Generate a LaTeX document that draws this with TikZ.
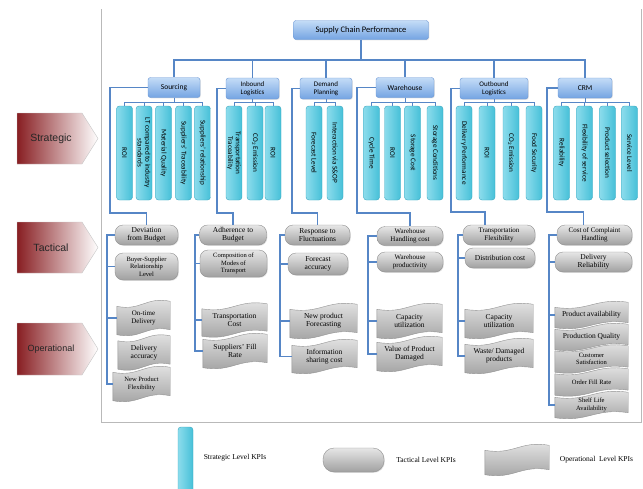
\documentclass[tikz,border=0pt]{standalone}
\usepackage{fontspec}
\setmainfont{Liberation Serif}
\newfontfamily\calfont{Carlito}
\newfontfamily\arialfont{Liberation Sans}
\usetikzlibrary{calc,backgrounds,shadows}
\definecolor{lineblue}{RGB}{86,134,198}
\definecolor{catborder}{RGB}{106,150,212}
\definecolor{cattop}{RGB}{196,220,247}
\definecolor{catbot}{RGB}{116,164,226}
\definecolor{barmain}{RGB}{70,192,216}
\definecolor{barlight}{RGB}{140,220,236}
\definecolor{barborder}{RGB}{58,166,190}
\definecolor{ttop}{RGB}{230,230,230}
\definecolor{tbot}{RGB}{160,160,160}
\definecolor{tborder}{RGB}{145,145,145}
\definecolor{framegray}{RGB}{185,185,185}
\definecolor{lvred}{RGB}{136,30,34}
\newcommand\opwave[1]{%
  \path[opshape] let \p1=(#1.north west), \p2=(#1.south east) in
  (\x1,{\y1-2.5pt}) .. controls ({0.55*\x1+0.45*\x2},{\y1-7.5pt}) and ({0.45*\x1+0.55*\x2},{\y1+7.5pt}) .. (\x2,{\y1+2.5pt})
  -- (\x2,{\y2+2.5pt}) .. controls ({0.45*\x1+0.55*\x2},{\y2+7.5pt}) and ({0.55*\x1+0.45*\x2},{\y2-7.5pt}) .. (\x1,{\y2-2.5pt}) -- cycle;}
\newcommand\kpispine[3]{\draw[conn] (#2.west) -- (#2.west -| #1,0) -- (#3.west -| #1,0) -- (#3.west);}
\newcommand\kpistub[2]{\draw[conn] (#2.west) -- (#2.west -| #1,0);}
\begin{document}
\begin{tikzpicture}[x=1pt,y=-1pt,
  conn/.style={draw=lineblue, line width=1.2pt},
  thin conn/.style={draw=lineblue, line width=1pt},
  catbox/.style={draw=catborder, rounded corners=2.5pt, top color=cattop, bottom color=catbot,
    font=\calfont\fontsize{7.5}{8.5}\selectfont, align=center, inner sep=1pt, minimum height=20pt,
    drop shadow={opacity=0.2, shadow xshift=0.8pt, shadow yshift=-0.8pt}},
  sbar/.style={draw=barborder, rounded corners=3pt, left color=barlight, right color=barmain,
    minimum width=16pt, minimum height=94pt, inner sep=0pt},
  stext/.style={rotate=-90, font=\calfont\fontsize{7.2}{7.8}\selectfont, align=center, inner sep=0pt},
  tkpi/.style={draw=tborder, rounded corners=8pt, top color=ttop, bottom color=tbot,
    font=\fontsize{7.5}{8.2}\selectfont, align=center, inner sep=1pt, minimum height=20pt,
    drop shadow={opacity=0.25, shadow xshift=0.8pt, shadow yshift=-0.8pt}},
  okpi/.style={font=\fontsize{7.5}{8.2}\selectfont, align=center, inner sep=1pt, minimum height=28pt},
  opshape/.style={draw=tborder, top color=ttop, bottom color=tbot},
  lvtext/.style={font=\arialfont\fontsize{10.5}{12}\selectfont, text=black!85, inner sep=0pt},
  legtext/.style={font=\fontsize{7.5}{8.5}\selectfont, inner sep=0pt}
]
\useasboundingbox (0,0) rectangle (643,488);
\clip (0,0) rectangle (643,488);

% frame
\draw[framegray, line width=0.8pt] (101,9) -- (101,422) -- (641,422) -- (641,9);

% level arrows
\shade[left color=lvred, right color=white, draw=gray!45] (17,113) -- (82,113) -- (98,138.5) -- (82,164) -- (17,164) -- cycle;
\node[lvtext] (lvS) at (51,138.5) {Strategic};
\shade[left color=lvred, right color=white, draw=gray!45] (17,222) -- (82,222) -- (98,247.5) -- (82,273) -- (17,273) -- cycle;
\node[lvtext] (lvT) at (51,247.5) {Tactical};
\shade[left color=lvred, right color=white, draw=gray!45] (17,323) -- (82,323) -- (98,349) -- (82,375) -- (17,375) -- cycle;
\node[lvtext, font=\arialfont\fontsize{9}{11}\selectfont] (lvO) at (51,349) {Operational};

% top and categories
\node[catbox, font=\calfont\fontsize{8.5}{9.5}\selectfont, minimum width=135pt, minimum height=19pt] (top) at (361,30) {Supply Chain Performance};
\node[catbox, minimum width=52pt] (cSo) at (174,87.5) {Sourcing};
\node[catbox, minimum width=53pt, minimum height=21pt, font=\calfont\fontsize{7}{8.2}\selectfont] (cIn) at (252.5,88.5) {Inbound\\Logistics};
\node[catbox, minimum width=52pt, minimum height=21pt, font=\calfont\fontsize{7}{8.2}\selectfont] (cDe) at (326,88.5) {Demand\\Planning};
\node[catbox, minimum width=58pt] (cWa) at (405,87.5) {Warehouse};
\node[catbox, minimum width=68pt, minimum height=21pt, font=\calfont\fontsize{7}{8.2}\selectfont] (cOu) at (494,88.5) {Outbound\\Logistics};
\node[catbox, minimum width=54pt] (cCR) at (585,88) {CRM};

\coordinate (bus) at (361,60);
\draw[conn] (top.south) -- (bus);
\foreach \c in {cSo,cIn,cDe,cWa,cOu,cCR}{\draw[conn] (bus) -| (\c.north);}

% strategic bars
\foreach \n/\x/\t in {s11/124.5/ROI, s12/144/{LT compared to industry\\standards}, s13/163.5/Material Quality,
  s14/183.5/Suppliers’ Traceability, s15/202.5/Suppliers’ relationship,
  s21/234/{Transportation\\Traceability}, s22/255/CO\textsubscript{2} Emission, s23/273/ROI,
  s31/314/Forecast Level, s32/335/Interaction via S\&OP,
  s41/371.5/Cycle Time, s42/392.5/ROI, s43/412.5/Storage Cost, s44/435/Storage Conditions,
  s51/464/Delivery Performance, s52/487/ROI, s53/511/CO\textsubscript{2} Emission, s54/534/Food Security,
  s61/561.5/Reliability, s62/584.5/Flexibility of service, s63/607.5/Product selection, s64/629.5/Service Level}{
  \node[sbar] (\n) at (\x,153) {};
  \node[stext] (\n t) at (\n) {\t};
}

% category to bars
\foreach \c/\a/\b/\lst in {cSo/s11/s15/{s11,s12,s13,s14,s15}, cIn/s21/s23/{s21,s22,s23}, cDe/s31/s32/{s31,s32},
  cWa/s41/s44/{s41,s42,s43,s44}, cOu/s51/s54/{s51,s52,s53,s54}, cCR/s61/s64/{s61,s62,s63,s64}}{
  \draw[thin conn] (\c.south) -- (\c.south |- 0,102);
  \draw[thin conn] (\a.north |- 0,102) -- (\b.north |- 0,102);
  \foreach \s in \lst {\draw[thin conn] (\s.north) -- (\s.north |- 0,102);}
}

% tactical KPIs
\node[tkpi, minimum width=63pt] (tSo1) at (146.5,235) {Deviation\\from Budget};
\node[tkpi, minimum width=63pt, minimum height=27pt, font=\fontsize{6.5}{7.6}\selectfont] (tSo2) at (146.5,266.5) {Buyer-Supplier\\Relationship\\Level};
\node[tkpi, minimum width=67pt] (tIn1) at (233,235) {Adherence to\\Budget};
\node[tkpi, minimum width=67pt, minimum height=27pt, font=\fontsize{6.5}{7.6}\selectfont] (tIn2) at (233.5,263.5) {Composition of\\Modes of\\Transport};
\node[tkpi, minimum width=65pt] (tDe1) at (317.5,235) {Response to\\Fluctuations};
\node[tkpi, minimum width=60pt, minimum height=22pt] (tDe2) at (318,264) {Forecast\\accuracy};
\node[tkpi, minimum width=66pt, minimum height=19pt, font=\fontsize{7}{8}\selectfont] (tWa1) at (410,236) {Warehouse\\Handling cost};
\node[tkpi, minimum width=66pt, font=\fontsize{7}{8}\selectfont] (tWa2) at (410,262) {Warehouse\\productivity};
\node[tkpi, minimum width=72pt, font=\fontsize{7}{8}\selectfont] (tOu1) at (499,235) {Transportation\\Flexibility};
\node[tkpi, minimum width=70pt] (tOu2) at (500,258) {Distribution cost};
\node[tkpi, minimum width=75pt, font=\fontsize{7}{8}\selectfont] (tCR1) at (594.5,235) {Cost of Complaint\\Handling};
\node[tkpi, minimum width=77pt] (tCR2) at (593.5,262) {Delivery\\Reliability};

% operational KPIs
\node[okpi, minimum width=53pt, font=\fontsize{7}{8}\selectfont] (oSo1) at (143.5,318) {On-time\\Delivery};
\node[okpi, minimum width=52pt] (oSo2) at (144,352.5) {Delivery\\accuracy};
\node[okpi, minimum width=57pt, font=\fontsize{6.5}{7.6}\selectfont] (oSo3) at (141.5,384) {New Product\\Flexibility};
\node[okpi, minimum width=65pt, minimum height=27pt] (oIn1) at (234.5,320) {Transportation\\Cost};
\node[okpi, minimum width=64pt] (oIn2) at (235,351) {Suppliers’ Fill\\Rate};
\node[okpi, minimum width=67pt] (oDe1) at (323.5,321) {New product\\Forecasting};
\node[okpi, minimum width=65pt, minimum height=27pt] (oDe2) at (324.5,356.5) {Information\\sharing cost};
\node[okpi, minimum width=65pt] (oWa1) at (409.5,321) {Capacity\\utilization};
\node[okpi, minimum width=65pt] (oWa2) at (409.5,354) {Value of Product\\Damaged};
\node[okpi, minimum width=68pt] (oOu1) at (499,321) {Capacity\\utilization};
\node[okpi, minimum width=68pt] (oOu2) at (499,356) {Waste/ Damaged\\products};
\node[okpi, minimum width=73pt, minimum height=20pt] (oCR1) at (591.5,315) {Product availability};
\node[okpi, minimum width=73pt, minimum height=20pt] (oCR2) at (591.5,337) {Production Quality};
\node[okpi, minimum width=73pt, minimum height=21pt, font=\fontsize{6.5}{7.4}\selectfont] (oCR3) at (591.5,359) {Customer\\Satisfaction};
\node[okpi, minimum width=73pt, minimum height=21pt, font=\fontsize{6.5}{7.4}\selectfont] (oCR4) at (591.5,382) {Order Fill Rate};
\node[okpi, minimum width=73pt, minimum height=20pt, font=\fontsize{6.5}{7.4}\selectfont] (oCR5) at (591.5,405) {Shelf Life\\Availability};

% legend
\node[sbar, minimum width=15pt, minimum height=76pt] (lgS) at (185.5,465) {};
\node[legtext] (lgSt) at (235,458) {Strategic Level KPIs};
\node[tkpi, minimum width=61pt, minimum height=24pt, rounded corners=11pt] (lgT) at (353.5,460) {};
\node[legtext] (lgTt) at (426,460) {Tactical Level KPIs};
\node[okpi, minimum width=64pt, minimum height=24pt] (lgO) at (517,460) {};
\node[legtext] (lgOt) at (596.5,460) {Operational\ \ Level KPIs};

\begin{scope}[on background layer]
\foreach \o in {oSo1,oSo2,oSo3,oIn1,oIn2,oDe1,oDe2,oWa1,oWa2,oOu1,oOu2,oCR1,oCR2,oCR3,oCR4,oCR5,lgO}{\opwave{\o}}
\end{scope}

% brackets from categories to tactical
\draw[conn] (cSo.west) -| (110,213) -| (tSo1.north);
\draw[conn] (cIn.west) -| (217,213) -| (tIn1.north);
\draw[conn] (cDe.west) -| (292,213) -| (tDe1.north);
\draw[conn] (cWa.west) -| (357,213) -| (tWa1.north);
\draw[conn] (cOu.west) -| (451,212) -| ([xshift=-14pt]tOu1.north);
\draw[conn] (cCR.west) -| (547,212) -| ([xshift=-11pt]tCR1.north);

% spines
\kpispine{107}{tSo1}{oSo3}
\kpistub{107}{tSo2}
\kpistub{107}{oSo1}
\kpispine{195}{tIn1}{oIn2}
\kpistub{195}{tIn2}
\kpistub{195}{oIn1}
\kpispine{280}{tDe1}{oDe2}
\kpistub{280}{tDe2}
\kpistub{280}{oDe1}
\kpispine{368}{tWa1}{oWa2}
\kpistub{368}{tWa2}
\kpistub{368}{oWa1}
\kpispine{458}{tOu1}{oOu2}
\kpistub{458}{tOu2}
\kpistub{458}{oOu1}
\kpispine{549}{tCR1}{oCR5}
\kpistub{549}{tCR2}
\kpistub{549}{oCR1}
\end{tikzpicture}
\end{document}
